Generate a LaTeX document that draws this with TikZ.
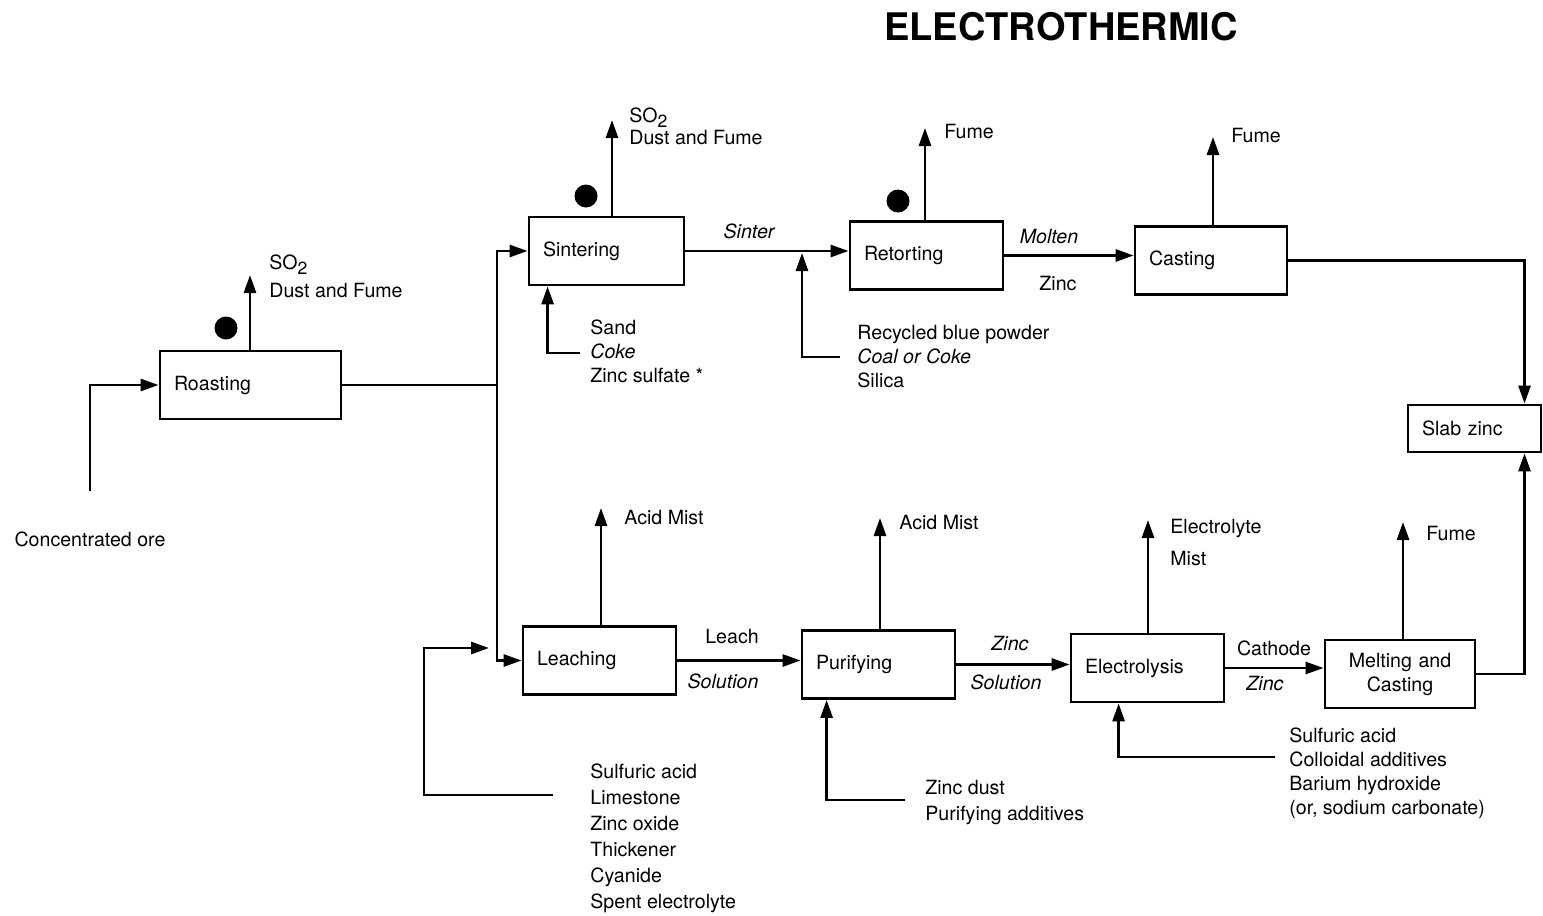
\documentclass[tikz,border=0pt]{standalone}
\usepackage{fontspec}
\setmainfont{TeX Gyre Heros}
\usetikzlibrary{arrows.meta}

\newcommand{\lblfont}{\fontsize{9.8}{12}\selectfont}
\newcommand{\sotwo}{SO\raisebox{-0.55ex}{\fontsize{8.8}{10}\selectfont 2}}

\begin{document}
\begin{tikzpicture}[x=0.5pt, y=-0.5pt,
    proc/.style={draw, line width=1.4pt, inner xsep=7pt, inner ysep=0pt, minimum height=34pt, align=left, font=\lblfont},
    flow/.style={line width=1.4pt, -{Triangle[length=9pt,width=6pt]}},
    pipe/.style={line width=1.4pt},
    lbl/.style={inner sep=0pt, align=left, font=\lblfont},
    dot/.style={circle, fill, inner sep=0pt, minimum size=11.5pt}]
    \useasboundingbox (0,0) rectangle (1543,916);
    \node (title) at (1061,27) [font=\fontsize{19}{22}\selectfont\bfseries] {ELECTROTHERMIC};

    \node (roast) at (250.5,385) [proc, text width=76.5pt] {Roasting};
    \node (sinter) at (606.5,251) [proc, text width=63.5pt] {Sintering};
    \node (retort) at (926.5,255.5) [proc, text width=62.5pt] {Retorting};
    \node (cast) at (1211,260.5) [proc, text width=62pt] {Casting};
    \node (slab) at (1474.5,428.5) [proc, text width=52.5pt, minimum height=23.5pt] {Slab zinc};
    \node (leach) at (599.5,660.5) [proc, text width=62.5pt] {Leaching};
    \node (purify) at (878.5,664.5) [proc, text width=62.5pt] {Purifying};
    \node (electro) at (1147.5,668) [proc, text width=62.5pt] {Electrolysis};
    \node (melt) at (1400,674) [proc, text width=61pt, align=center] {Melting and\\Casting};

    \node (ore) at (90,539) [lbl] {Concentrated ore};
    \draw[flow] ([yshift=20pt]ore.north) |- (roast.west);
    \coordinate (split) at (497,385);
    \draw[pipe] (roast.east) -- (split);
    \draw[flow] (split) |- (sinter.west);
    \draw[flow] (split) |- (leach.west);

    \node (roastdot) at (226,328) [dot] {};
    \coordinate (roastout) at (250,275);
    \draw[flow] (roastout |- roast.north) -- (roastout);
    \node (roastgas) at (269,254) [lbl, anchor=north west, font=\fontsize{9.8}{14}\selectfont] {\sotwo\\Dust and Fume};

    \node (sinterdot) at (586,196) [dot] {};
    \coordinate (sinterout) at (612,120);
    \draw[flow] (sinterout |- sinter.north) -- (sinterout);
    \node (sintergas) at (629,107) [lbl, anchor=north west, font=\fontsize{9.8}{11}\selectfont] {\sotwo\\Dust and Fume};
    \coordinate (sinterin) at (580,353);
    \draw[flow] (sinterin) -| ([xshift=10pt]sinter.south west);
    \node (sinterfeed) at (590,319) [lbl, anchor=north west, font=\fontsize{9.8}{12.2}\selectfont] {Sand\\\textit{Coke}\\Zinc sulfate *};

    \draw[flow] (sinter.east) -- (sinter.east -| retort.west);
    \node (sinterlbl) at (749,231) [lbl, font=\lblfont\itshape] {Sinter};
    \coordinate (retortjoin) at (802,253);
    \coordinate (retortin) at (840,357);
    \draw[flow] (retortin) -| (retortjoin);
    \node (retortfeed) at (857,325) [lbl, anchor=north west] {Recycled blue powder\\\textit{Coal or Coke}\\Silica};

    \node (retortdot) at (898,201) [dot] {};
    \coordinate (retortout) at (925,128);
    \draw[flow] (retortout |- retort.north) -- (retortout);
    \node (retortgas) at (944,131) [lbl, anchor=west] {Fume};

    \draw[flow] (retort.east) -- (retort.east -| cast.west);
    \node (moltenlbl) at (1049,236) [lbl, font=\lblfont\itshape] {Molten};
    \node (zinclbl) at (1058,283) [lbl] {Zinc};

    \coordinate (castout) at (1213,137);
    \draw[flow] (castout |- cast.north) -- (castout);
    \node (castgas) at (1231,136) [lbl, anchor=west] {Fume};
    \draw[flow] (cast.east) -| ([xshift=25pt]slab.north);

    \coordinate (leachout) at (601,508);
    \draw[flow] (leachout |- leach.north) -- (leachout);
    \node (leachgas) at (624,517) [lbl, anchor=west] {Acid Mist};
    \coordinate (leachin) at (553,795);
    \coordinate (leachturn) at (424,795);
    \coordinate (leachtip) at (489,648);
    \draw[flow] (leachin) -- (leachturn) |- (leachtip);
    \node (leachfeed) at (590,763) [lbl, anchor=north west, font=\fontsize{9.8}{13}\selectfont] {Sulfuric acid\\Limestone\\Zinc oxide\\Thickener\\Cyanide\\Spent electrolyte};

    \draw[flow] (leach.east) -- (leach.east -| purify.west);
    \node (leachlbl) at (732,636) [lbl] {Leach};
    \node (sollbl) at (723,681) [lbl, font=\lblfont\itshape] {Solution};

    \coordinate (purifyout) at (880,518);
    \draw[flow] (purifyout |- purify.north) -- (purifyout);
    \node (purifygas) at (899,522) [lbl, anchor=west] {Acid Mist};
    \coordinate (purifyin) at (905,800);
    \draw[flow] (purifyin) -| ([xshift=13pt]purify.south west);
    \node (purifyfeed) at (925,780) [lbl, anchor=north west, font=\fontsize{9.8}{13}\selectfont] {Zinc dust\\Purifying additives};

    \draw[flow] (purify.east) -- (purify.east -| electro.west);
    \node (zincsollbl) at (1010,643) [lbl, font=\lblfont\itshape] {Zinc};
    \node (sol2lbl) at (1006,682) [lbl, font=\lblfont\itshape] {Solution};

    \coordinate (electroout) at (1148,520);
    \draw[flow] (electroout |- electro.north) -- (electroout);
    \node (electrogas) at (1170,519) [lbl, anchor=north west, font=\fontsize{9.8}{16}\selectfont] {Electrolyte\\Mist};
    \coordinate (electroin) at (1275,757);
    \draw[flow] (electroin) -| ([xshift=24.5pt]electro.south west);
    \node (electrofeed) at (1289,727) [lbl, anchor=north west] {Sulfuric acid\\Colloidal additives\\Barium hydroxide\\(or, sodium carbonate)};

    \draw[flow] (electro.east) -- (electro.east -| melt.west);
    \node (cathlbl) at (1274,648) [lbl] {Cathode};
    \node (cathzinclbl) at (1265,683) [lbl, font=\lblfont\itshape] {Zinc};

    \coordinate (meltout) at (1403,522);
    \draw[flow] (meltout |- melt.north) -- (meltout);
    \node (meltgas) at (1426,533) [lbl, anchor=west] {Fume};
    \draw[flow] (melt.east) -| ([xshift=25pt]slab.south);
\end{tikzpicture}
\end{document}
